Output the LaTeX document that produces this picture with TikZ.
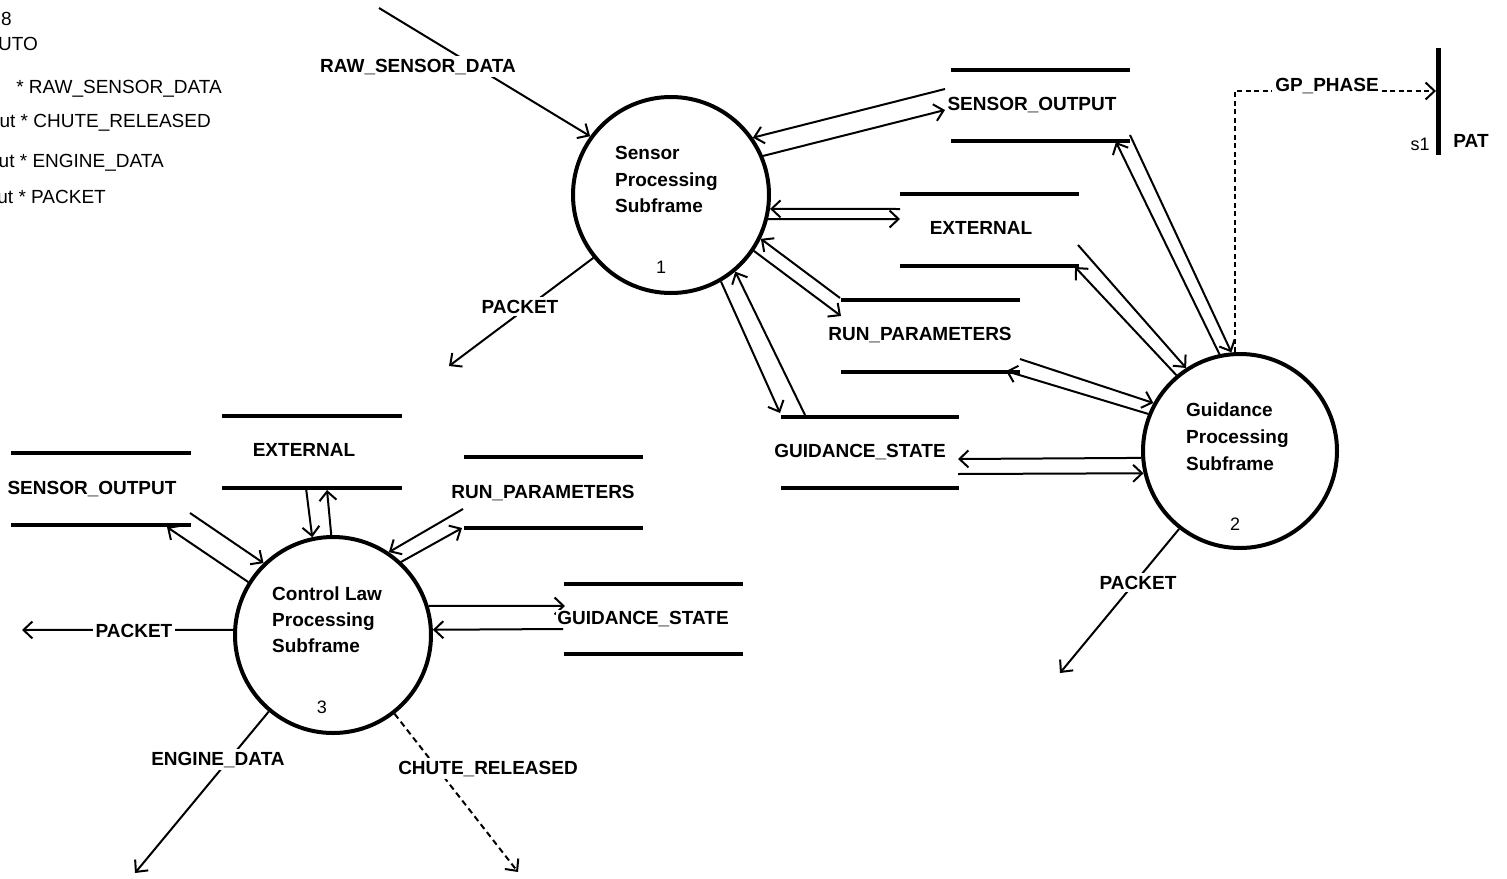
\documentclass[tikz,border=0pt]{standalone}
\usepackage{fontspec}
\setmainfont{Liberation Sans}
\usetikzlibrary{arrows.meta}
\begin{document}
\begin{tikzpicture}[x=1pt,y=-1pt,
  flow/.style={line width=2pt,-{Straight Barb[length=9pt,width=17pt]}},
  dflow/.style={flow,dash pattern=on 6pt off 4pt},
  storeline/.style={line width=4pt},
  bubble/.style={circle,draw,line width=4pt,minimum size=196pt,inner sep=0pt},
  lbl/.style={font=\fontsize{19}{22}\selectfont\bfseries,inner sep=0pt,anchor=base},
  lblw/.style={lbl,fill=white,inner sep=3pt},
  btxt/.style={font=\fontsize{19}{22}\selectfont\bfseries,inner sep=0pt,anchor=base west},
  rtxt/.style={font=\fontsize{19}{22}\selectfont,inner sep=0pt,anchor=base east},
  num/.style={font=\fontsize{18}{22}\selectfont,inner sep=0pt,anchor=base},
]
\useasboundingbox (0,0) rectangle (1507,878);

% header lines
\node[rtxt] (h8) at (12,25) {8};
\node[rtxt] (hauto) at (38,50) {UTO};
\node[rtxt] (hraw) at (222,93) {* RAW\_SENSOR\_DATA};
\node[rtxt] (hchute) at (211,127) {ut * CHUTE\_RELEASED};
\node[rtxt] (hengine) at (164,167) {ut * ENGINE\_DATA};
\node[rtxt] (hpacket) at (106,203) {ut * PACKET};

% processes
\node[bubble] (c1) at (671,195) {};
\node[bubble,minimum size=194pt] (c2) at (1240,451) {};
\node[bubble] (c3) at (333,635) {};

\node[btxt] (t1a) at (615,159) {Sensor};
\node[btxt] (t1b) at (615,186) {Processing};
\node[btxt] (t1c) at (615,212) {Subframe};
\node[num] (n1) at (661,273) {1};

\node[btxt] (t2a) at (1186,416) {Guidance};
\node[btxt] (t2b) at (1186,443) {Processing};
\node[btxt] (t2c) at (1186,470) {Subframe};
\node[num] (n2) at (1235,530) {2};

\node[btxt] (t3a) at (272,600) {Control Law};
\node[btxt] (t3b) at (272,626) {Processing};
\node[btxt] (t3c) at (272,652) {Subframe};
\node[num] (n3) at (322,713) {3};

% data stores, upper group
\draw[storeline] (951,70) -- (1130,70);
\draw[storeline] (951,141) -- (1130,141);
\node[lbl] (so1) at (1032,110) {SENSOR\_OUTPUT};
\draw[storeline] (900,194) -- (1079,194);
\draw[storeline] (900,266) -- (1079,266);
\node[lbl] (ex1) at (981,234) {EXTERNAL};
\draw[storeline] (841,300) -- (1020,300);
\draw[storeline] (841,372) -- (1020,372);
\node[lbl] (rp1) at (920,340) {RUN\_PARAMETERS};
\draw[storeline] (781,417) -- (959,417);
\draw[storeline] (781,488) -- (959,488);
\node[lbl] (gs1) at (860,457) {GUIDANCE\_STATE};

% data stores, lower group
\draw[storeline] (11,453) -- (191,453);
\draw[storeline] (11,525) -- (191,525);
\node[lbl] (so3) at (92,494) {SENSOR\_OUTPUT};
\draw[storeline] (222,416) -- (402,416);
\draw[storeline] (222,488) -- (402,488);
\node[lbl] (ex3) at (304,456) {EXTERNAL};
\draw[storeline] (464,457) -- (643,457);
\draw[storeline] (464,528) -- (643,528);
\node[lbl] (rp3) at (543,498) {RUN\_PARAMETERS};
\draw[storeline] (564,584) -- (743,584);
\draw[storeline] (564,654) -- (743,654);

% terminator PAT
\coordinate (pattop) at (1438,48);
\coordinate (patbot) at (1438,155);
\draw[line width=5pt] (pattop) -- (patbot);
\node[lbl] (pat) at (1471,147) {PAT};
\node[num,font=\fontsize{18}{22}\selectfont] (s1) at (1420,150) {s1};

% free ends of flows
\coordinate (rawsrc) at (379,8);
\coordinate (so1a) at (945,89);
\coordinate (so1b) at (945,110);
\coordinate (ex1a) at (900,209);
\coordinate (ex1b) at (900,219);
\coordinate (rp1a) at (840,298);
\coordinate (rp1b) at (841,316);
\coordinate (gs1a) at (805,415);
\coordinate (gs1b) at (780,413);
\coordinate (pk1) at (449,366);

\coordinate (so2a) at (1130,135);
\coordinate (so2b) at (1116,142);
\coordinate (ex2a) at (1078,245);
\coordinate (ex2b) at (1075,267);
\coordinate (rp2a) at (1020,359);
\coordinate (rp2b) at (1006,371);
\coordinate (gs2a) at (958,459);
\coordinate (gs2b) at (958,474);
\coordinate (pk2) at (1060,673);
\coordinate (patin) at (1436,91);

\coordinate (so3a) at (190,513);
\coordinate (so3b) at (167,527);
\coordinate (ex3a) at (306,488);
\coordinate (ex3b) at (327,490);
\coordinate (rp3a) at (463,509);
\coordinate (rp3b) at (462,528);
\coordinate (gs3a) at (565,606);
\coordinate (gs3b) at (563,629);
\coordinate (pk3) at (22,630);
\coordinate (eng) at (135,873);
\coordinate (chute) at (518,872);

% flows of process 1
\draw[flow] (rawsrc) -- (c1.144.2);
\draw[flow] (so1a) -- (c1.35.3);
\draw[flow] (c1.23) -- (so1b);
\draw[flow] (ex1a) -- (c1.-8.2);
\draw[flow] (c1.-14.2) -- (ex1b);
\draw[flow] (rp1a) -- (c1.-26.1);
\draw[flow] (c1.-34) -- (rp1b);
\draw[flow] (gs1a) -- (c1.-50.6);
\draw[flow] (c1.-60.9) -- (gs1b);
\draw[flow] (c1.-141.5) -- (pk1);

% flows of process 2
\draw[flow] (so2a) -- (c2.95.1);
\draw[flow] (c2.102.8) -- (so2b);
\draw[flow] (ex2a) -- (c2.123.2);
\draw[flow] (c2.130) -- (ex2b);
\draw[flow] (rp2a) -- (c2.151);
\draw[flow] (c2.158.9) -- (rp2b);
\draw[flow] (c2.184.8) -- (gs2a);
\draw[flow] (gs2b) -- (c2.193.9);
\draw[flow] (c2.232.1) -- (pk2);
\draw[dflow,dash pattern=on 5pt off 3.5pt] (c2.93) |- (patin);

% flows of process 3
\draw[flow] (so3a) -- (c3.134.2);
\draw[flow] (c3.148.8) -- (so3b);
\draw[flow] (ex3a) -- (c3.102.2);
\draw[flow] (c3.91.7) -- (ex3b);
\draw[flow] (rp3a) -- (c3.56.6);
\draw[flow] (c3.47.8) -- (rp3b);
\draw[flow] (c3.17.2) -- (gs3a);
\draw[flow] (gs3b) -- (c3.3.5);
\draw[flow] (c3.177.1) -- (pk3);
\draw[flow] (c3.230.9) -- (eng);
\draw[dflow] (c3.308.1) -- (chute);

% store label drawn over the arrow that runs into it
\node[lbl,fill=white,inner sep=1pt] (gs3) at (643,624) {GUIDANCE\_STATE};

% flow labels sitting on their lines
\node[lblw] (lraw) at (418,72) {RAW\_SENSOR\_DATA};
\node[lblw] (lpk1) at (520,313) {PACKET};
\node[lblw] (lpk2) at (1138,589) {PACKET};
\node[lblw] (lgp) at (1327,91) {GP\_PHASE};
\node[lblw] (lpk3) at (134,637) {PACKET};
\node[lblw] (leng) at (218,765) {ENGINE\_DATA};
\node[lblw] (lchute) at (488,774) {CHUTE\_RELEASED};
\end{tikzpicture}
\end{document}
